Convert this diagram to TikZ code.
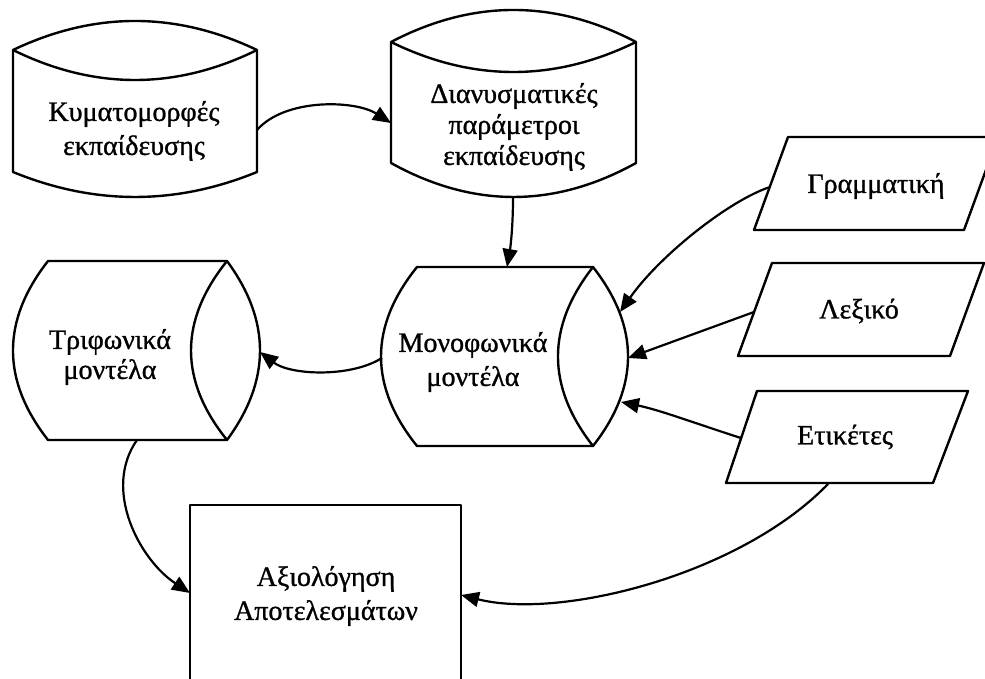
\documentclass[tikz,border=0pt]{standalone}
\usepackage{fontspec}
\setmainfont[FakeBold=1.0]{Liberation Serif}
\usetikzlibrary{arrows.meta}

\begin{document}
\begin{tikzpicture}[x=1pt,y=-1pt,
  outline/.style={draw=black, line width=2.4pt, line join=round, fill=white},
  rim/.style={draw=black, line width=2.4pt, line join=round},
  lbl/.style={font=\fontsize{28}{34}\selectfont, align=center, inner sep=0pt},
  link/.style={draw=black, line width=2.2pt, -{Triangle[length=18pt,width=15pt]}},
]
\useasboundingbox (0,0) rectangle (985,679);
\fill[white] (0,0) rectangle (985,679);
\clip (0,0) rectangle (985,679);

% --- stores (upright cylinders) ---
\path[outline] (13,50) -- (13,172)
  .. controls (94.3,205.3) and (175.7,205.3) .. (257,172) -- (257,50)
  .. controls (175.7,11.3) and (94.3,11.3) .. (13,50) -- cycle;
\path[rim] (13,50) .. controls (94.3,90) and (175.7,90) .. (257,50);
\node[lbl] (kym) at (134,131) {Κυματομορφές\\εκπαίδευσης};

\path[outline] (391,42) -- (391,163)
  .. controls (472.7,208.3) and (554.3,208.3) .. (636,163) -- (636,42)
  .. controls (554.3,-0.7) and (472.7,-0.7) .. (391,42) -- cycle;
\path[rim] (391,42) .. controls (472.7,82) and (554.3,82) .. (636,42);
\node[lbl, font=\fontsize{28}{31}\selectfont] (dian) at (514,127) {Διανυσματικές\\παράμετροι\\εκπαίδευσης};

% --- models (lying cylinders) ---
\path[outline] (48,261) -- (227,261)
  .. controls (271,320.7) and (271,380.3) .. (227,440) -- (48,440)
  .. controls (1.3,380.3) and (1.3,320.7) .. (48,261) -- cycle;
\path[rim] (227,261) .. controls (179,320.7) and (179,380.3) .. (227,440);
\node[lbl, font=\fontsize{28}{30}\selectfont] (tri) at (110,357) {Τριφωνικά\\μοντέλα};

\path[outline] (417,267) -- (593,267)
  .. controls (639.7,326.7) and (639.7,386.3) .. (593,446) -- (417,446)
  .. controls (369,386.3) and (369,326.7) .. (417,267) -- cycle;
\path[rim] (593,267) .. controls (546.3,326.7) and (546.3,386.3) .. (593,446);
\node[lbl] (mono) at (473,362) {Μονοφωνικά\\μοντέλα};

% --- inputs (parallelograms) ---
\path[outline] (754,230) -- (788,137) -- (998,137) -- (964,230) -- cycle;
\node[lbl] (gram) at (876,186) {Γραμματική};
\path[outline] (738,356) -- (772,263) -- (984,263) -- (950,356) -- cycle;
\node[lbl] (lex) at (859,311) {Λεξικό};
\path[outline] (726,483) -- (757,391) -- (968,391) -- (933,483) -- cycle;
\node[lbl] (etik) at (845,437) {Ετικέτες};

% --- evaluation box ---
\path[outline] (190,505) rectangle (461,700);
\node[lbl] (eval) at (326,596) {Αξιολόγηση\\Αποτελεσμάτων};

% --- connection points ---
\coordinate (kymR) at (257,130);
\coordinate (dianL) at (391,123);
\coordinate (dianB) at (513,197);
\coordinate (monoT) at (507,267);
\coordinate (monoL) at (382,358);
\coordinate (triR) at (260,352);
\coordinate (triB) at (137,440);
\coordinate (evalL) at (190,593);
\coordinate (evalR) at (461,595);
\coordinate (etikB) at (828,484);
\coordinate (gramL) at (770,187);
\coordinate (monoRa) at (620,312);
\coordinate (lexL) at (754,312);
\coordinate (monoRb) at (628,358);
\coordinate (etikL) at (741,438);
\coordinate (monoRc) at (621,402);

% --- connectors ---
\draw[link] (kymR) .. controls (285,98) and (355,100) .. (dianL);
\draw[link] (dianB) .. controls (513,230) and (510,250) .. (monoT);
\draw[link] (monoL) .. controls (350,378) and (290,375) .. (triR);
\draw[link] (triB) .. controls (102,490) and (140,560) .. (evalL);
\draw[link] (etikB) .. controls (740,575) and (560,620) .. (evalR);
\draw[link] (gramL) .. controls (730,200) and (660,255) .. (monoRa);
\draw[link] (lexL) -- (monoRb);
\draw[link] (etikL) .. controls (700,425) and (660,410) .. (monoRc);
\end{tikzpicture}
\end{document}
